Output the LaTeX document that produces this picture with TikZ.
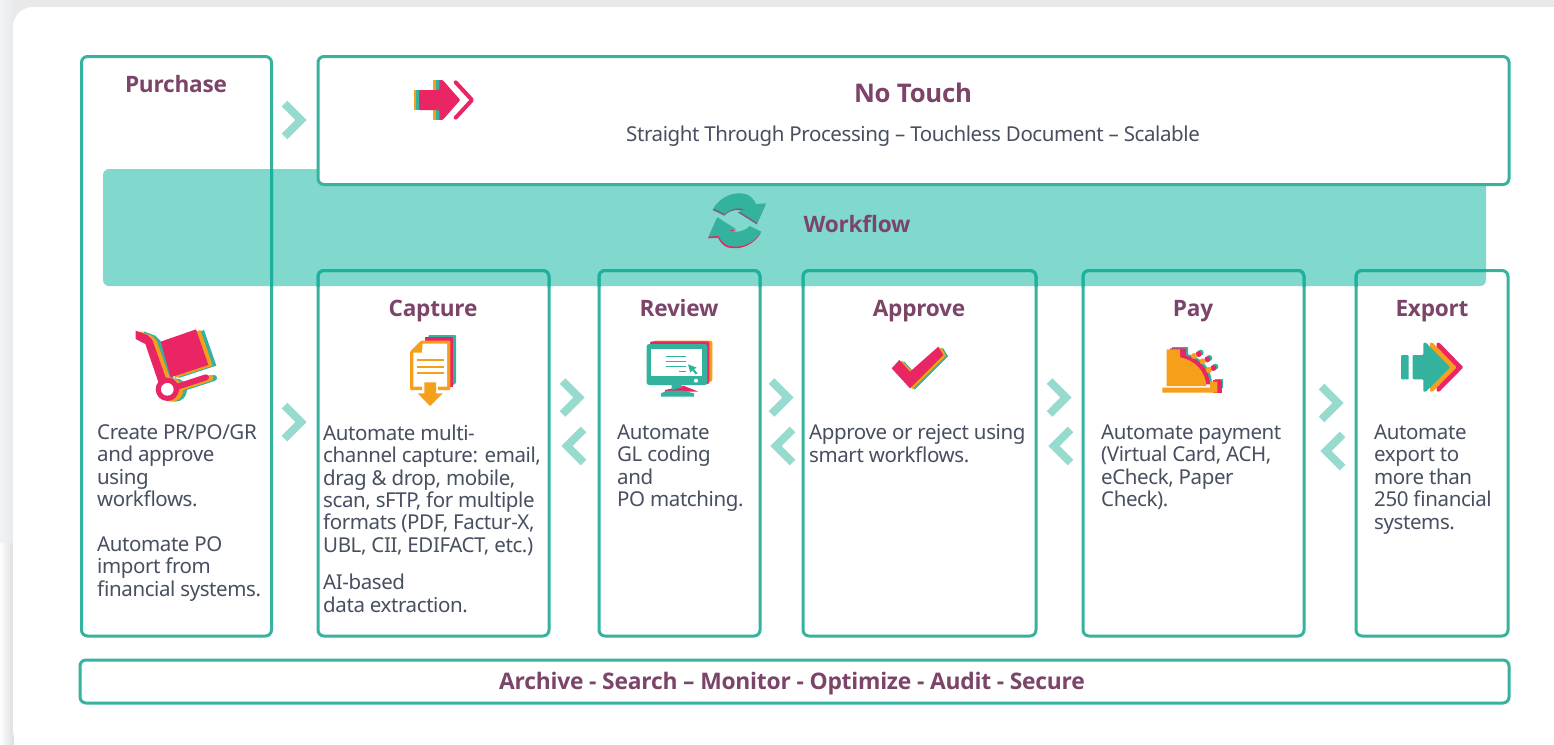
\documentclass[tikz,border=0pt]{standalone}
\usepackage{fontspec}
\setmainfont{Noto Sans}[LetterSpace=-2]
\newfontfamily\headfont{Open Sans}[LetterSpace=-1]
\usetikzlibrary{calc}
\definecolor{frameteal}{HTML}{36B39F}
\definecolor{framedark}{HTML}{1DB09B}
\definecolor{bandteal}{HTML}{81D8CD}
\definecolor{chev}{HTML}{97DBCE}
\definecolor{plum}{HTML}{7B4468}
\definecolor{slatetext}{HTML}{474F60}
\definecolor{iconpink}{HTML}{E92564}
\definecolor{iconorange}{HTML}{F59F1B}
\definecolor{iconteal}{HTML}{33B29E}
\definecolor{bgstrip}{HTML}{E8E9EB}
\tikzset{
  framebox/.style={draw=frameteal,line width=3pt,rounded corners=6pt,inner sep=0pt,outer sep=0pt},
  headtext/.style={text=plum,font=\headfont\bfseries\fontsize{22.6}{25}\selectfont,inner sep=0pt,anchor=base},
  bodytext/.style={text=slatetext,font=\fontsize{20.5}{22.4}\selectfont,align=left,anchor=north west,inner sep=0pt},
  chevron/.style={draw=chev,line width=8pt,miter limit=10},
}
\newcommand{\chevR}[2]{\draw[chevron] ($(#1,#2)+(-9.5,-16.5)$) -- ($(#1,#2)+(7,0)$) -- ($(#1,#2)+(-9.5,16.5)$);}
\newcommand{\chevL}[2]{\draw[chevron] ($(#1,#2)+(9.5,-16.5)$) -- ($(#1,#2)+(-7,0)$) -- ($(#1,#2)+(9.5,16.5)$);}
\newcommand{\bx}[6]{\node[framebox,#6,minimum width=#4pt-#2pt,minimum height=#5pt-#3pt] (#1) at ({(#2+#4)/2},{(#3+#5)/2}) {};}
\begin{document}
\begin{tikzpicture}[x=1pt,y=-1pt]
\clip (0,0) rectangle (1554,744);
% page background and card
\fill[bgstrip] (0,0) rectangle (1554,543);
\shade[left color=white!45!bgstrip,right color=bgstrip] (0,0) rectangle (14,543);
\shade[left color=white!92!bgstrip,right color=bgstrip!95!black] (0,543) rectangle (14,744);
\fill[white,rounded corners=20pt] (13,7) rectangle (1620,750);
% workflow band
\fill[bandteal,rounded corners=6pt] (103,169) rectangle (1486,286);
% frames
\bx{notouch}{318}{56.5}{1509}{184.5}{fill=white}
\bx{purchase}{81.5}{56.5}{271.5}{636}{}
\bx{capture}{318}{270.5}{549}{636}{}
\bx{review}{599}{270.5}{760}{636}{}
\bx{approve}{803}{270.5}{1036}{636}{}
\bx{pay}{1083}{270.5}{1304}{636}{}
\bx{export}{1356}{270.5}{1508}{636}{}
\bx{bottom}{80}{660}{1509}{703}{}
\begin{scope}
\clip (103,169) rectangle (1486,286);
\foreach \n in {purchase,capture,review,approve,pay,export}
  \draw[framedark,line width=3pt,rounded corners=6pt] (\n.north west) rectangle (\n.south east);
\end{scope}
% chevrons
\chevR{294}{120}\chevR{294}{422}
\chevR{572}{397.5}\chevL{574}{446}
\chevR{781}{397.5}\chevL{783}{446}
\chevR{1059}{397.5}\chevL{1061}{446}
\chevR{1331}{403}\chevL{1333}{451}
% headings
\node[headtext] (hpurchase) at (176,92.5) {Purchase};
\node[headtext,font=\headfont\bfseries\fontsize{25.7}{28}\selectfont] (hnotouch) at (913,102) {No Touch};
\node[text=slatetext,font=\fontsize{20.5}{22}\selectfont,inner sep=0pt,anchor=base] (subnotouch) at (913,141) {Straight Through Processing – Touchless Document – Scalable};
\node[headtext] (hworkflow) at (857,232.5) {Workflow};
\node[headtext] (hcapture) at (433,316.5) {Capture};
\node[headtext] (hreview) at (679,316.5) {Review};
\node[headtext] (happrove) at (919,316.5) {Approve};
\node[headtext] (hpay) at (1193,316.5) {Pay};
\node[headtext] (hexport) at (1432,316.5) {Export};
\node[headtext,font=\headfont\bfseries\fontsize{22.8}{25}\selectfont] (hbottom) at (792,689) {Archive - Search – Monitor - Optimize - Audit - Secure};
% body
\node[bodytext] (tpurchase) at (97,424.5) {Create PR/PO/GR\\and approve\\using\\workflows.\\[22.4pt]Automate PO\\import from\\financial systems.};
\node[bodytext] (tcapture) at (323,424.5) {Automate multi-\\channel capture: email,\\drag \& drop, mobile,\\scan, sFTP, for multiple\\formats (PDF, Factur-X,\\UBL, CII, EDIFACT, etc.)\\[15pt]AI-based\\data extraction.};
\node[bodytext] (treview) at (617,424.5) {Automate\\GL coding\\and\\PO matching.};
\node[bodytext] (tapprove) at (809,424.5) {Approve or reject using\\smart workflows.};
\node[bodytext] (tpay) at (1101,424.5) {Automate payment\\(Virtual Card, ACH,\\eCheck, Paper\\Check).};
\node[bodytext] (texport) at (1374,424.5) {Automate\\export to\\more than\\250 financial\\systems.};
% --- icon: no touch arrow
\begin{scope}[shift={(400,70)},scale=1/3]
\fill[iconorange] (41,60) rectangle (60,120);
\fill[iconteal] (49,60) rectangle (60,120);
\fill[iconorange] (100,30) rectangle (125,150);
\fill[iconteal] (108,30) rectangle (125,150);
\fill[iconpink,rounded corners=1pt] (57,60) -- (118,60) -- (118,30) -- (128,30) -- (181,90) -- (128,150) -- (118,150) -- (118,120) -- (57,120) -- cycle;
\draw[iconpink,line width=4pt,line cap=round,line join=round] (167,37) -- (216,90) -- (167,143);
\end{scope}
% --- icon: cart
\begin{scope}[shift={(70,40)},scale=1/3]
\foreach \c/\dx/\dy in {iconteal/24/2,iconorange/13/2,iconpink/0/0}{
\begin{scope}[shift={(\dx,\dy)}]
\fill[\c] (272,905) -- (378,868) -- (415,975) -- (302,1012) -- cycle;
\fill[\c] (197,872) -- (232,885) -- (247,900) -- (293,1030) -- (268,1035) -- (226,912) -- (197,897) -- cycle;
\draw[\c,line width=6pt,line cap=round] (310,1044) -- (408,1012);
\fill[\c] (292,1048) circle (35);
\end{scope}}
\fill[white] (292,1048) circle (19);
\end{scope}
% --- icon: document
\begin{scope}[shift={(70,40)},scale=1/3]
\fill[iconteal,rounded corners=1pt] (1075,885) -- (1158,885) -- (1158,1030) -- (1140,1040) -- (1075,1040) -- cycle;
\fill[iconpink] (1065,892) -- (1150,892) -- (1150,1040) -- (1065,1040) -- cycle;
\fill[iconorange,rounded corners=1pt] (1020,935) -- (1053,902) -- (1141,902) -- (1141,1050) -- (1020,1050) -- cycle;
\fill[white] (1030,938) -- (1056,938) -- (1058,911) -- (1131,911) -- (1131,1040) -- (1030,1040) -- cycle;
\foreach \yy in {960,980,1000} \draw[iconorange,line width=2pt] (1042,\yy) -- (1122,\yy);
\fill[white] (1055,1020) rectangle (1105,1060);
\fill[iconorange] (1063,1027) -- (1098,1027) -- (1098,1060) -- (1118,1060) -- (1080,1098) -- (1043,1060) -- (1063,1060) -- cycle;
\end{scope}
% --- icon: monitor
\begin{scope}[shift={(550,180)},scale=1/3]
\fill[iconorange,rounded corners=2pt] (310,482) rectangle (487,605);
\fill[iconpink,rounded corners=2pt] (300,484) rectangle (478,612);
\fill[iconpink] (400,617) -- (445,635) -- (400,635) -- cycle;
\fill[iconteal,rounded corners=2.5pt] (290,492) rectangle (472,615);
\fill[white] (303,507) rectangle (455,588);
\foreach \yy in {530,545,560} \draw[iconteal,line width=1.3pt] (347,\yy) -- (408,\yy);
\draw[iconteal,line width=1.3pt] (387,574) -- (408,574);
\fill[iconteal] (414,553) -- (440,563) -- (432,568) -- (443,580) -- (437,583) -- (427,571) -- (421,578) -- cycle;
\fill[white] (438,602) circle (6);
\fill[iconpink] (345,630) -- (400,618) -- (420,632) -- (345,640) -- cycle;
\fill[iconteal] (365,615) -- (395,615) -- (395,622) -- (365,630) -- cycle;
\fill[iconteal] (333,640) -- (350,632) -- (400,632) -- (432,640) -- (432,650) -- (333,650) -- cycle;
\end{scope}
% --- icon: check
\begin{scope}[shift={(550,180)},scale=1/3]
\foreach \c/\dx/\dy in {iconteal/14/4,iconorange/8/2,iconpink/0/0}{
\fill[\c,shift={(\dx,\dy)}] (1025,565) -- (1048,540) -- (1080,575) -- (1165,500) -- (1180,525) -- (1080,625) -- cycle;}
\end{scope}
% --- icon: workflow arrows
\begin{scope}[shift={(550,180)},scale=1/3]
\newcommand{\upperarrow}{(490,85) .. controls (510,52) and (550,32) .. (590,43) .. controls (602,48) and (612,58) .. (618,72) -- (648,70) -- (622,128) -- (565,92) -- (585,90) .. controls (570,80) and (540,85) .. (525,102) -- cycle}
\fill[plum!80!bandteal,shift={(-2,5)}] \upperarrow;
\fill[iconteal] \upperarrow;
\begin{scope}[shift={(1124,240)},scale=-1]
\fill[iconpink,shift={(2,-5)}] \upperarrow;
\fill[iconteal] \upperarrow;
\end{scope}
\end{scope}
% --- icon: cash register
\begin{scope}[shift={(1040,260)},scale=1/3]
\foreach \c/\dx/\dy in {iconteal/14/-9,iconpink/8/-5}{
\begin{scope}[shift={(\dx,\dy)}]
\fill[\c] (382,270) -- (430,270) -- (430,292) .. controls (470,300) and (500,335) .. (502,378) -- (382,378) -- cycle;
\fill[\c] (510,365) -- (535,365) -- (535,393) -- (510,393) -- cycle;
\foreach \cx/\cy in {462/288,488/304,506/330} \fill[\c] (\cx+6,\cy-1) circle (9);
\end{scope}}
\fill[iconpink] (520,362) -- (545,362) -- (545,398) -- (520,398) -- cycle;
\fill[iconorange] (380,268) -- (420,268) -- (420,292) .. controls (465,300) and (497,335) .. (499,378) -- (380,378) -- cycle;
\fill[iconorange] (367,383) -- (510,383) -- (510,365) -- (532,365) -- (532,398) -- (367,398) -- cycle;
\foreach \cx/\cy in {462/288,488/304,506/330} \fill[iconorange] (\cx,\cy) circle (9);
\end{scope}
% --- icon: export arrow
\begin{scope}[shift={(1040,260)},scale=1/3]
\fill[iconpink,rounded corners=1pt] (1190,248) -- (1198,248) -- (1270,322) -- (1198,395) -- (1190,395) -- cycle;
\fill[iconorange,rounded corners=1pt] (1170,248) -- (1178,248) -- (1250,322) -- (1178,395) -- (1170,395) -- cycle;
\fill[iconteal,rounded corners=1pt] (1083,285) rectangle (1106,358);
\fill[iconteal,rounded corners=1pt] (1118,285) -- (1150,285) -- (1150,248) -- (1158,248) -- (1230,322) -- (1158,395) -- (1150,395) -- (1150,358) -- (1118,358) -- cycle;
\end{scope}
\end{tikzpicture}
\end{document}
